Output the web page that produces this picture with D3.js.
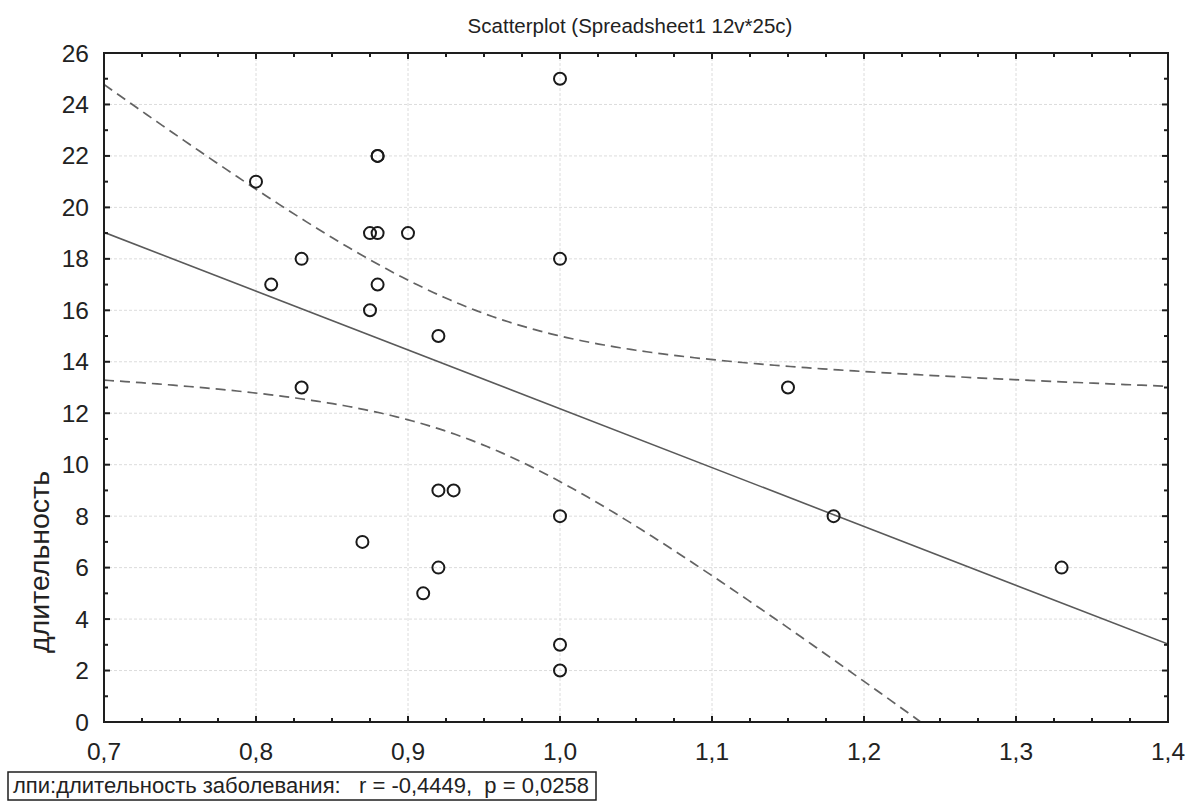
<!DOCTYPE html>
<html>
<head>
<meta charset="utf-8">
<script src="https://cdn.jsdelivr.net/npm/d3@7"></script>
<style>
  html, body { margin: 0; padding: 0; background: #fff; }
  svg { display: block; font-family: "Liberation Sans", Arial, sans-serif; }
</style>
</head>
<body>
<div id="chart"></div>
<script>
// lpi (x) vs duration (y), 25 cases
const xValues = [0.8, 0.81, 0.83, 0.83, 0.87, 0.875, 0.875, 0.88, 0.88, 0.88, 0.88, 0.9, 0.91,
  0.92, 0.92, 0.92, 0.93, 1.0, 1.0, 1.0, 1.0, 1.0, 1.15, 1.18, 1.33];
const yValues = [21, 17, 18, 13, 7, 19, 16, 22, 22, 19, 17, 19, 5,
  15, 9, 6, 9, 25, 18, 8, 3, 2, 13, 8, 6];

const xTicks = [0.7, 0.8, 0.9, 1.0, 1.1, 1.2, 1.3, 1.4];
const yTicks = [0, 2, 4, 6, 8, 10, 12, 14, 16, 18, 20, 22, 24, 26];

const TITLE = "Scatterplot (Spreadsheet1 12v*25c)";
const Y_LABEL = "длительность";
const LEGEND_TEXT = "лпи:длительность заболевания:   r = -0,4449,  p = 0,0258";
const T_CRIT = 2.0687; // t(0.975, 23)

const WIDTH = 1195;
const HEIGHT = 810;
const PLOT_LEFT = 104;
const PLOT_RIGHT = 1168;
const PLOT_TOP = 53;
const PLOT_BOTTOM = 722;

const fmt = (d) => d3.format(".1f")(d).replace(".", ",");

const svg = d3.select("#chart").append("svg")
  .attr("width", WIDTH)
  .attr("height", HEIGHT);

const x = d3.scaleLinear().domain([0.7, 1.4]).range([PLOT_LEFT, PLOT_RIGHT]);
const y = d3.scaleLinear().domain([0, 26]).range([PLOT_BOTTOM, PLOT_TOP]);

svg.append("defs").append("clipPath").attr("id", "plot-clip")
  .append("rect")
  .attr("x", PLOT_LEFT).attr("y", PLOT_TOP)
  .attr("width", PLOT_RIGHT - PLOT_LEFT)
  .attr("height", PLOT_BOTTOM - PLOT_TOP);

// grid
const grid = svg.append("g").attr("class", "grid")
  .attr("stroke", "#dcdcdc").attr("stroke-width", 1).attr("stroke-dasharray", "3,2");
grid.selectAll("line.gx").data(xTicks.slice(1, -1)).join("line")
  .attr("x1", (d) => x(d)).attr("x2", (d) => x(d))
  .attr("y1", PLOT_TOP).attr("y2", PLOT_BOTTOM);
grid.selectAll("line.gy").data(yTicks.slice(1, -1)).join("line")
  .attr("x1", PLOT_LEFT).attr("x2", PLOT_RIGHT)
  .attr("y1", (d) => y(d)).attr("y2", (d) => y(d));

// regression + 95% confidence band
const n = xValues.length;
const meanX = d3.mean(xValues);
const meanY = d3.mean(yValues);
const sxx = d3.sum(xValues, (v) => (v - meanX) ** 2);
const sxy = d3.sum(xValues, (v, i) => (v - meanX) * (yValues[i] - meanY));
const slope = sxy / sxx;
const intercept = meanY - slope * meanX;
const sse = d3.sum(xValues, (v, i) => (yValues[i] - (intercept + slope * v)) ** 2);
const sErr = Math.sqrt(sse / (n - 2));
const fitAt = (v) => intercept + slope * v;
const halfWidth = (v) => T_CRIT * sErr * Math.sqrt(1 / n + (v - meanX) ** 2 / sxx);

const xGrid = d3.range(0, 201).map((i) => 0.7 + (0.7 * i) / 200);
const fitLayer = svg.append("g").attr("clip-path", "url(#plot-clip)");

fitLayer.append("path")
  .datum([0.7, 1.4])
  .attr("fill", "none")
  .attr("stroke", "#5a5a5a")
  .attr("stroke-width", 1.6)
  .attr("d", d3.line().x((v) => x(v)).y((v) => y(fitAt(v))));

[1, -1].forEach((sign) => {
  fitLayer.append("path")
    .datum(xGrid)
    .attr("fill", "none")
    .attr("stroke", "#636363")
    .attr("stroke-width", 1.7)
    .attr("stroke-dasharray", "10,6")
    .attr("d", d3.line().x((v) => x(v)).y((v) => y(fitAt(v) + sign * halfWidth(v))));
});

// points
svg.append("g").selectAll("circle")
  .data(xValues.map((v, i) => [v, yValues[i]]))
  .join("circle")
  .attr("cx", (d) => x(d[0]))
  .attr("cy", (d) => y(d[1]))
  .attr("r", 6)
  .attr("fill", "none")
  .attr("stroke", "#1a1a1a")
  .attr("stroke-width", 2);

// frame + inward ticks
const frame = svg.append("g").attr("stroke", "#1e1e1e");
frame.append("rect")
  .attr("x", PLOT_LEFT).attr("y", PLOT_TOP)
  .attr("width", PLOT_RIGHT - PLOT_LEFT).attr("height", PLOT_BOTTOM - PLOT_TOP)
  .attr("fill", "none").attr("stroke-width", 2);

const xMinor = d3.range(0, 29).map((i) => 0.7 + i * 0.025);
const yMinor = d3.range(0, 27);
const isMajorX = (v) => Math.abs(v * 10 - Math.round(v * 10)) < 1e-6;

frame.selectAll("line.tx").data(xMinor).join("line")
  .attr("x1", (d) => x(d)).attr("x2", (d) => x(d))
  .attr("y1", PLOT_BOTTOM).attr("y2", (d) => PLOT_BOTTOM - (isMajorX(d) ? 6 : 4))
  .attr("stroke-width", 2);
frame.selectAll("line.ttx").data(xMinor).join("line")
  .attr("x1", (d) => x(d)).attr("x2", (d) => x(d))
  .attr("y1", PLOT_TOP).attr("y2", (d) => PLOT_TOP + (isMajorX(d) ? 6 : 4))
  .attr("stroke-width", 2);
frame.selectAll("line.ty").data(yMinor).join("line")
  .attr("x1", PLOT_LEFT).attr("x2", (d) => PLOT_LEFT + (d % 2 === 0 ? 6 : 4))
  .attr("y1", (d) => y(d)).attr("y2", (d) => y(d))
  .attr("stroke-width", 2);
frame.selectAll("line.tty").data(yMinor).join("line")
  .attr("x1", PLOT_RIGHT).attr("x2", (d) => PLOT_RIGHT - (d % 2 === 0 ? 6 : 4))
  .attr("y1", (d) => y(d)).attr("y2", (d) => y(d))
  .attr("stroke-width", 2);

// tick labels
svg.append("g").selectAll("text").data(xTicks).join("text")
  .attr("x", (d) => x(d))
  .attr("y", PLOT_BOTTOM + 38)
  .attr("text-anchor", "middle")
  .attr("font-size", 24.5)
  .attr("fill", "#222")
  .text(fmt);

svg.append("g").selectAll("text").data(yTicks).join("text")
  .attr("x", PLOT_LEFT - 15)
  .attr("y", (d) => y(d))
  .attr("dy", "0.35em")
  .attr("text-anchor", "end")
  .attr("font-size", 24.5)
  .attr("fill", "#222")
  .text((d) => d);

// title + axis label
svg.append("text")
  .attr("x", 630).attr("y", 33)
  .attr("text-anchor", "middle")
  .attr("font-size", 20.5)
  .attr("fill", "#222")
  .text(TITLE);

svg.append("text")
  .attr("transform", "translate(49,562) rotate(-90)")
  .attr("text-anchor", "middle")
  .attr("font-size", 28.5)
  .attr("fill", "#222")
  .text(Y_LABEL);

// legend box
const legend = svg.append("g").attr("transform", "translate(8,772)");
legend.append("rect")
  .attr("width", 588).attr("height", 28)
  .attr("fill", "#fff").attr("stroke", "#1e1e1e").attr("stroke-width", 1.5);
legend.append("text")
  .attr("x", 5).attr("y", 21)
  .attr("font-size", 22)
  .attr("fill", "#222")
  .attr("xml:space", "preserve")
  .style("white-space", "pre")
  .text(LEGEND_TEXT);
</script>
</body>
</html>
